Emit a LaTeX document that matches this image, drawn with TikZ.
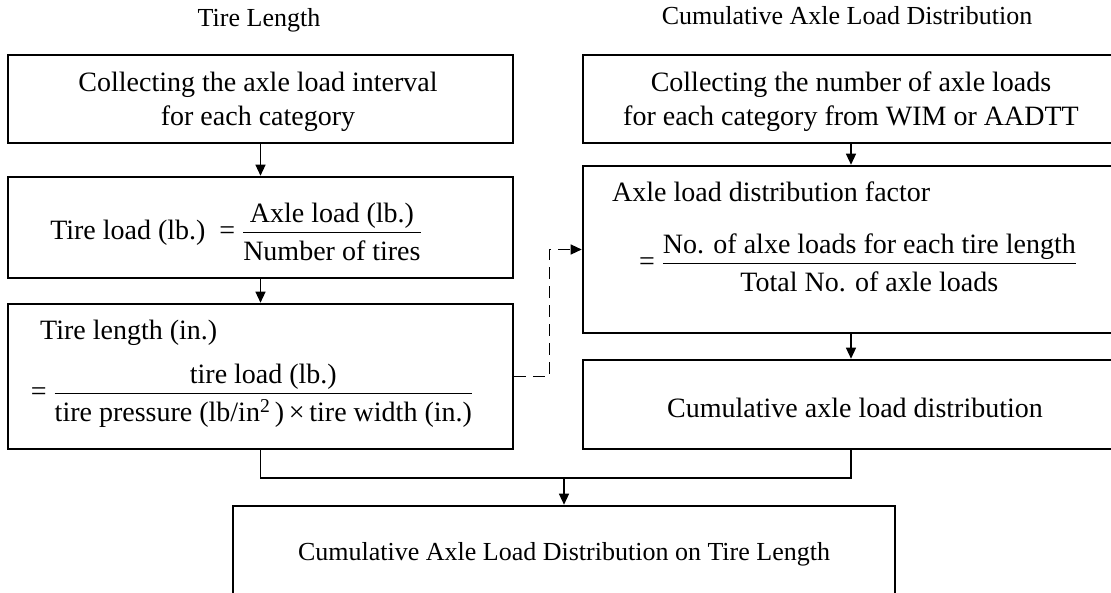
\documentclass[tikz,border=0pt]{standalone}
\usepackage{amsmath}
\usepackage{fontspec}
\setmainfont{Liberation Serif}
\usetikzlibrary{arrows.meta}
\newcommand{\lowden}[1]{\raisebox{-4pt}{#1}}
\begin{document}
\begin{tikzpicture}[x=1pt,y=-1pt,
  box/.style={draw,line width=2.6pt,inner sep=0pt},
  txt/.style={inner sep=0pt,align=center,font=\fontsize{28}{34}\selectfont},
  small/.style={inner sep=0pt,font=\fontsize{26}{30}\selectfont},
  conn/.style={line width=1.3pt},
  arr/.style={conn,-{Triangle[length=11pt,width=10pt]}},
  dsh/.style={arr,dash pattern=on 12pt off 7pt}]
\useasboundingbox (0,0) rectangle (1111,592);
\clip (0,0) rectangle (1111,592);
% titles
\node[small] (t1) at (259,20) {Tire Length};
\node[small] (t2) at (847,16) {Cumulative Axle Load Distribution};
% left column
\node[box,minimum width=505pt,minimum height=88pt] (L1) at (260.5,99) {};
\node[txt] (l1t) at (258,102) {Collecting the axle load interval\\for each category};
\node[box,minimum width=505pt,minimum height=101pt] (L2) at (260.5,227.5) {};
\node[txt,anchor=base] (e2) at (236,239)
  {$\text{Tire load (lb.)}\;\mathrel{\text{=}}\dfrac{\text{Axle load (lb.)}}{\lowden{Number of tires}}$};
\node[box,minimum width=505pt,minimum height=145pt] (L3) at (260.5,376.5) {};
\node[txt,anchor=west] (l3a) at (40,333) {Tire length (in.)};
\node[txt,anchor=base] (e3) at (252,400)
  {$\mathrel{\text{=}}\dfrac{\text{tire load (lb.)}}{\lowden{tire pressure (lb/in\textsuperscript{2}\,)\,×\,tire width (in.)}}$};
% right column
\node[box,minimum width=536pt,minimum height=88pt] (R1) at (851,99) {};
\node[txt] (r1t) at (851,102) {Collecting the number of axle loads\\for each category from WIM or AADTT};
\node[box,minimum width=536pt,minimum height=167pt] (R2) at (851,249.5) {};
\node[txt,anchor=west] (r2a) at (612,192) {Axle load distribution factor};
\node[txt,anchor=base] (e4) at (858,270)
  {$\mathrel{\text{=}}\dfrac{\text{No. of alxe loads for each tire length}}{\lowden{Total No. of axle loads}}$};
\node[box,minimum width=536pt,minimum height=89pt] (R3) at (851,404.5) {};
\node[txt] (r3t) at (855,408) {Cumulative axle load distribution};
% bottom
\node[box,minimum width=662pt,minimum height=92pt] (B) at (564,552) {};
\node[small] (bt) at (564,554) {Cumulative Axle Load Distribution on Tire Length};
\coordinate (m) at (564,478);
% connectors
\draw[arr] (L1.south) -- (L2.north);
\draw[arr] (L2.south) -- (L3.north);
\draw[arr] (R1.south) -- (R2.north);
\draw[arr] (R2.south) -- (R3.north);
\draw[conn] (L3.south) |- (m);
\draw[conn] (R3.south) |- (m);
\draw[arr] (m) -- (B.north);
\draw[dsh] (L3.east) -- ++(35,0) |- (R2.west);
\end{tikzpicture}
\end{document}
